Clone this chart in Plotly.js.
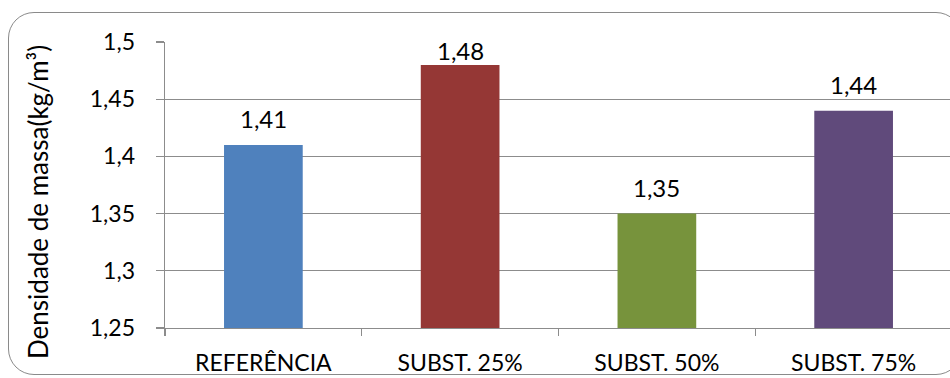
<!DOCTYPE html>
<html>
<head>
<meta charset="utf-8">
<script src="https://cdn.plot.ly/plotly-3.0.1.min.js"></script>
<style>
  html, body { margin: 0; padding: 0; width: 950px; height: 378px; overflow: hidden; background: #ffffff; }
  #wrap { position: relative; width: 950px; height: 378px; overflow: hidden; }
  #frame {
    position: absolute; left: 8px; top: 12px; width: 954px; height: 363px;
    border: 1.2px solid #8a8a8a; border-radius: 26px; box-sizing: border-box;
  }
  #chart { position: absolute; left: 0; top: 0; }
</style>
</head>
<body>
<div id="wrap">
  <div id="frame"></div>
  <div id="chart"></div>
</div>
<script>
// Densidade de massa por traço
const categories = ['REFERÊNCIA', 'SUBST. 25%', 'SUBST. 50%', 'SUBST. 75%'];
const densities = [1.41, 1.48, 1.35, 1.44];
const barColors = ['#4F81BD', '#953735', '#77933C', '#604A7B'];
const yTicks = [1.25, 1.3, 1.35, 1.4, 1.45, 1.5];
const yTitle = 'Densidade de massa(kg/m³)';

const FONT = 'Lato, "Open Sans", sans-serif';
const GRID = '#8c8c8c';
const yMin = 1.25, yMax = 1.5;
const plotTop = 42, plotBottom = 328;
const pxPerUnit = (plotBottom - plotTop) / (yMax - yMin);

const fmt = v => String(v).replace('.', ',');

// value labels sit above each bar, pushed down when they would leave the plot area
const labels = densities.map((v, i) => {
  const room = (yMax - v) * pxPerUnit;
  return {
    x: categories[i], y: v, xref: 'x', yref: 'y',
    text: fmt(v), showarrow: false,
    yanchor: 'middle', xanchor: 'center',
    yshift: Math.min(26, room - 9),
    font: { family: FONT, size: 24, color: '#000000' }
  };
});

labels.push({
  x: 0, y: 0.5, xref: 'paper', yref: 'paper',
  xanchor: 'center', yanchor: 'middle',
  xshift: -127, yshift: -17,
  text: yTitle, textangle: -90, showarrow: false,
  font: { family: FONT, size: 26, color: '#000000' }
});

const trace = {
  type: 'bar',
  x: categories,
  y: densities,
  marker: { color: barColors, line: { width: 0 } },
  hoverinfo: 'x+y'
};

const layout = {
  width: 960, height: 378,
  margin: { l: 165, r: 8, t: plotTop, b: 378 - plotBottom },
  paper_bgcolor: 'rgba(0,0,0,0)',
  plot_bgcolor: 'rgba(0,0,0,0)',
  separators: ',.',
  bargap: 0.6,
  showlegend: false,
  font: { family: FONT, size: 22, color: '#000000' },
  xaxis: {
    type: 'category',
    range: [-0.5, 3.5],
    showgrid: false,
    showline: true, linecolor: GRID, linewidth: 1.4,
    ticks: 'outside', tickson: 'boundaries', ticklen: 7, tickcolor: GRID, tickwidth: 1.4,
    ticklabelstandoff: 14,
    tickfont: { family: FONT, size: 23, color: '#000000' },
    fixedrange: true
  },
  yaxis: {
    range: [yMin, yMax],
    tickvals: yTicks,
    ticktext: yTicks.map(fmt),
    showgrid: true, gridcolor: GRID, gridwidth: 1.4,
    showline: true, linecolor: GRID, linewidth: 1.4,
    ticks: 'outside', ticklen: 8, tickcolor: GRID, tickwidth: 1.4,
    ticklabelstandoff: 16,
    zeroline: false,
    tickfont: { family: FONT, size: 23, color: '#000000' },
    fixedrange: true
  },
  annotations: labels
};

Plotly.newPlot('chart', [trace], layout, { displayModeBar: false, staticPlot: true });
</script>
</body>
</html>
